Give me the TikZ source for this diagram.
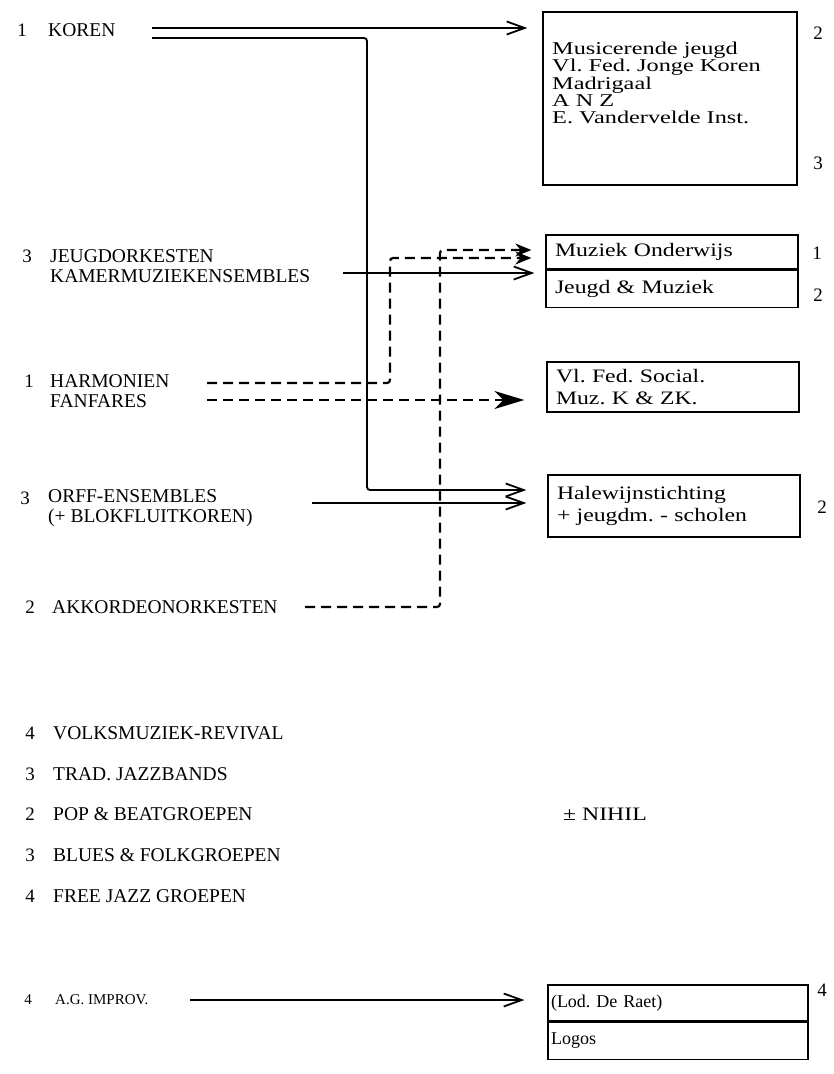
\documentclass[tikz,border=0pt]{standalone}
\usepackage{fontspec}
\setmainfont{Liberation Serif}
\newfontfamily\boxfont[FakeStretch=1.25]{Liberation Serif}
\newfontfamily\widefont[FakeStretch=1.35]{Liberation Serif}
\usetikzlibrary{positioning,arrows.meta}
\tikzset{
  lab/.style={anchor=west,inner sep=0pt,align=left,font=\fontsize{19.5}{20}\selectfont},
  num/.style={inner sep=0pt,font=\fontsize{19}{20}\selectfont},
  orgbox/.style={draw,line width=1.3pt,inner xsep=9pt,text width=234pt,align=left,font=\boxfont\fontsize{19}{22}\selectfont},
  lowbox/.style={draw,line width=1.3pt,inner xsep=3pt,text width=254pt,align=left,font=\fontsize{18}{20}\selectfont},
  link/.style={line width=1.8pt,-{Straight Barb[length=18pt,width=13pt]}},
  dlink/.style={line width=2.2pt,dash pattern=on 10pt off 6pt,-{Stealth[length=16pt,width=13pt]}},
}
\begin{document}
\frenchspacing
\begin{tikzpicture}[x=1pt,y=-1pt]
  \useasboundingbox (0,0) rectangle (834,1074);
  % groups
  \node[num] (n1) at (22,30) {1};
  \node[lab] (koren) at (48,30) {KOREN};
  \node[num] (n2) at (27,256) {3};
  \node[lab] (jeugd) at (50,266) {JEUGDORKESTEN\\KAMERMUZIEKENSEMBLES};
  \node[num] (n3) at (29,381) {1};
  \node[lab] (harm) at (50,391) {HARMONIEN\\FANFARES};
  \node[num] (n4) at (25,498) {3};
  \node[lab] (orff) at (48,508) {ORFF-ENSEMBLES\\(+ BLOKFLUITKOREN)};
  \node[num] (n5) at (30,607) {2};
  \node[lab] (akk) at (52,607) {AKKORDEONORKESTEN};
  \foreach \y/\n/\t [count=\i] in {733/4/VOLKSMUZIEK-REVIVAL,774/3/TRAD. JAZZBANDS,814/2/POP \& BEATGROEPEN,855/3/BLUES \& FOLKGROEPEN,896/4/FREE JAZZ GROEPEN}{
    \node[num] (m\i) at (30,\y) {\n};
    \node[lab] (g\i) at (53,\y) {\t};
  }
  \node[num,font=\fontsize{15}{18}\selectfont] (n6) at (28,1000) {4};
  \node[lab,font=\fontsize{15}{18}\selectfont] (impr) at (55,1000) {A.G. IMPROV.};
  % organisations
  \node[orgbox,text width=236pt,minimum height=173pt] (mj) at (670,98.5) {};
  \node[anchor=north west,inner sep=0pt,align=left,font=\widefont\fontsize{18}{17.3}\selectfont] (mjt) at (552,42) {Musicerende jeugd\\Vl. Fed. Jonge Koren\\Madrigaal\\A N Z\\E. Vandervelde Inst.};
  \node[orgbox,minimum height=34pt] (mo) at (672,252) {Muziek Onderwijs};
  \node[orgbox,minimum height=37pt,below=0pt of mo] (jm) {Jeugd \& Muziek};
  \node[orgbox,minimum height=50pt] (vf) at (673,387) {Vl. Fed. Social.\\Muz. K \& ZK.};
  \node[orgbox,minimum height=62pt] (hw) at (674,506) {Halewijnstichting\\+ jeugdm. - scholen};
  \node[lowbox,minimum height=36pt] (lr) at (678,1003) {(Lod. De Raet)};
  \node[lowbox,minimum height=37pt,below=0pt of lr] (lg) {Logos};
  \node[anchor=west,inner sep=0pt,font=\boxfont\fontsize{19}{22}\selectfont] (nihil) at (563,814) {± NIHIL};
  % right column
  \node[num] (r1) at (818,33) {2};
  \node[num] (r2) at (818,163) {3};
  \node[num] (r3) at (817,253) {1};
  \node[num] (r4) at (818,295) {2};
  \node[num] (r5) at (822,507) {2};
  \node[num] (r6) at (822,990) {4};
  % connectors
  \coordinate (korA) at (152,28);
  \coordinate (korB) at (152,38);
  \coordinate (kbend) at (367,38);
  \coordinate (jeuA) at (343,273);
  \coordinate (harA) at (207,383);
  \coordinate (hbend) at (390,383);
  \coordinate (fanA) at (207,400);
  \coordinate (orfA) at (312,503);
  \coordinate (akkA) at (305,607);
  \coordinate (abend) at (440,607);
  \coordinate (impA) at (190,1000);
  \draw[link,shorten >=15pt] (korA) -- (korA -| mj.west);
  \draw[link,rounded corners=3pt,shorten >=21pt] (korB) -- (kbend) |- ([yshift=16pt]hw.west);
  \draw[link,shorten >=11pt] (jeuA) -- (jeuA -| jm.west);
  \draw[link,shorten >=21pt] (orfA) -- (orfA -| hw.west);
  \draw[link,shorten >=23pt] (impA) -- (impA -| lr.west);
  \draw[dlink,rounded corners=3pt,shorten >=14pt] (harA) -- (hbend) |- ([yshift=-6pt]mo.west);
  \draw[dlink,-{Stealth[length=30pt,width=18pt,inset=9pt]},shorten >=22pt] (fanA) -- (fanA -| vf.west);
  \draw[dlink,rounded corners=3pt,shorten >=14pt] (akkA) -- (abend) |- ([yshift=2pt]mo.west);
\end{tikzpicture}
\end{document}
